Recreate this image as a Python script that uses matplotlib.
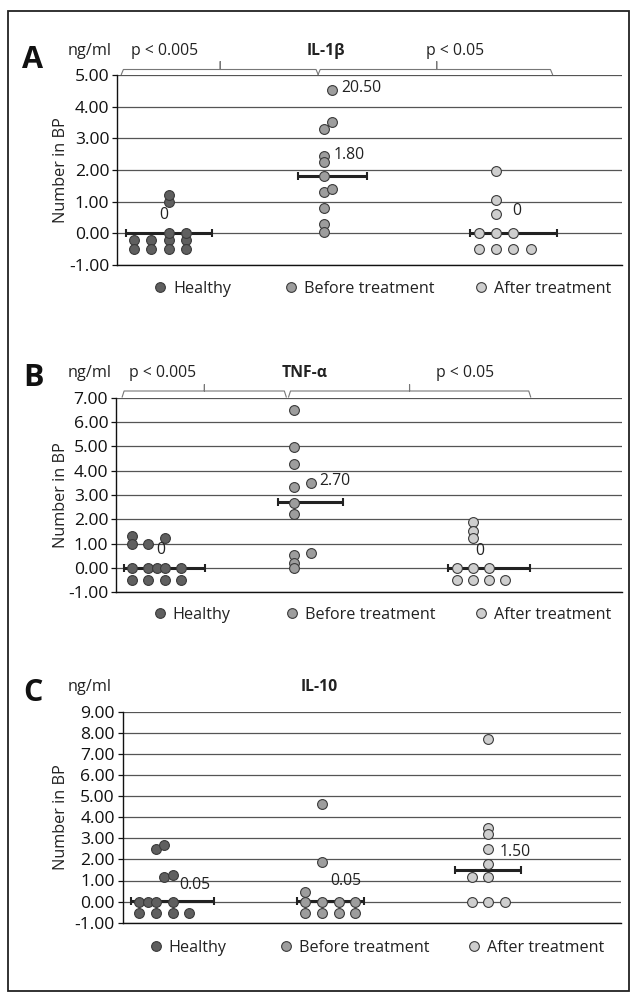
import numpy as np
import matplotlib
matplotlib.use('Agg')
import matplotlib.pyplot as plt
import matplotlib.transforms as mtrans
from matplotlib.lines import Line2D
from matplotlib.patches import Rectangle

plt.rcParams['font.family'] = ['Open Sans', 'DejaVu Sans']

# ---------------- data ----------------
groups = ['Healthy', 'Before treatment', 'After treatment']

# Panel A: IL-1beta
healthy_A_x = [1, 1, 2, 2, 3, 3, 3, 3, 3, 4, 4, 4]
healthy_A_y = [-0.22, -0.5, -0.22, -0.5, -0.22, -0.5, 0.0, 1.0, 1.2, -0.22, -0.5, 0.0]
before_A_x = [12.5, 12.5, 12, 12, 12, 12, 12, 12.5, 12, 12, 12]
before_A_y = [4.52, 3.52, 3.28, 2.43, 2.24, 1.82, 1.29, 1.40, 0.79, 0.30, 0.05]
after_A_x = [22, 22, 22, 21, 22, 23, 21, 22, 23, 24]
after_A_y = [1.96, 1.06, 0.60, 0, 0, 0, -0.5, -0.5, -0.5, -0.5]
median_A = [0.0, 1.80, 0.0]
median_A_labels = ['0', '1.80', '0']
outlier_A_label = '20.50'

# Panel B: TNF-alpha
healthy_B_x = [1, 1, 2, 3, 1, 2, 2.5, 3, 4, 1, 2, 3, 4]
healthy_B_y = [1.33, 0.99, 0.99, 1.24, 0, 0, 0, 0, 0, -0.51, -0.51, -0.51, -0.51]
before_B_x = [11, 11, 11, 11, 12, 11, 11, 11, 11, 11, 12]
before_B_y = [6.49, 4.99, 4.28, 3.32, 3.49, 2.69, 2.22, 0.53, 0.22, 0.0, 0.63]
after_B_x = [22, 22, 22, 21, 22, 23, 21, 22, 23, 24]
after_B_y = [1.88, 1.52, 1.22, 0, 0, 0, -0.5, -0.5, -0.5, -0.5]
median_B = [0.0, 2.70, 0.0]
median_B_labels = ['0', '2.70', '0']

# Panel C: IL-10
healthy_C_x = [2, 2.5, 2.5, 3, 1, 1.5, 2, 3, 1, 2, 3, 4]
healthy_C_y = [2.48, 2.68, 1.18, 1.26, 0, 0, 0, 0, -0.54, -0.54, -0.54, -0.54]
before_C_x = [11, 12, 12, 11, 12, 13, 14, 11, 12, 13, 14]
before_C_y = [0.47, 4.61, 1.89, 0, 0, 0, 0, -0.54, -0.54, -0.54, -0.54]
after_C_x = [22, 22, 22, 22, 22, 22, 21, 21, 22, 23]
after_C_y = [7.69, 3.50, 3.22, 2.48, 1.80, 1.17, 1.17, 0, 0, 0]
median_C = [0.05, 0.05, 1.50]
median_C_labels = ['0.05', '0.05', '1.50']

titles = ['IL-1β', 'TNF-α', 'IL-10']
letters = ['A', 'B', 'C']
pvals_A = ['p < 0.005', 'p < 0.05']
pvals_B = ['p < 0.005', 'p < 0.05']

# ---------------- style / layout ----------------
W, H, DPI = 630, 992, 100
colors = ['#5f5f5f', '#9d9d9d', '#cecece']
edge = '#3a3a3a'
FS = 11.3
TFS = 12.6

fig = plt.figure(figsize=(W / DPI, H / DPI), dpi=DPI)

panels = [
    dict(rect=(117, 75, 622, 265), ylim=(-1, 5), xlim=(0, 29.3),
         xs=[healthy_A_x, before_A_x, after_A_x], ys=[healthy_A_y, before_A_y, after_A_y],
         med=median_A, medlab=median_A_labels,
         medspan=[(0.5, 5.5), (10.5, 14.5), (20.5, 25.5)],
         labpos=[(2.74, 0.58), (13.5, 2.48), (23.2, 0.71)],
         extra=[(14.2, 4.6, outlier_A_label)],
         brackets=[(0.25, 11.67, 5.99), (11.67, 25.27, 18.55)],
         brk_px=(69.5, 74.5, 61.5), pv=pvals_A, pvx=[2.74, 19.6], titlex=12.1,
         text_py=51, letter_py=60, leg=[(160, 289), (291, 289), (481, 289)]),
    dict(rect=(116, 397.7, 622, 592.3), ylim=(-1, 7), xlim=(0, 31.2),
         xs=[healthy_B_x, before_B_x, after_B_x], ys=[healthy_B_y, before_B_y, after_B_y],
         med=median_B, medlab=median_B_labels,
         medspan=[(0.5, 5.5), (10, 14), (20.5, 25.5)],
         labpos=[(2.76, 0.74), (13.5, 3.58), (22.44, 0.70)],
         extra=[],
         brackets=[(0.38, 10.5, 5.45), (10.64, 25.57, 18.1)],
         brk_px=(391, 397, 384.5), pv=pvals_B, pvx=[2.9, 21.5], titlex=11.6,
         text_py=372.7, letter_py=377.5, leg=[(159.5, 615), (292, 615), (481, 615)]),
    dict(rect=(122.7, 711.7, 621, 922.7), ylim=(-1, 9), xlim=(0, 30.0),
         xs=[healthy_C_x, before_C_x, after_C_x], ys=[healthy_C_y, before_C_y, after_C_y],
         med=median_C, medlab=median_C_labels,
         medspan=[(0.5, 5.5), (10.5, 14.5), (20, 24)],
         labpos=[(4.36, 0.77), (13.44, 0.98), (23.6, 2.35)],
         extra=[],
         brackets=[], brk_px=None, pv=[], pvx=[], titlex=11.8,
         text_py=687.3, letter_py=693, leg=[(155.5, 948), (285.5, 948), (474, 948)]),
]

for i, p in enumerate(panels):
    l, t, r, b = p['rect']
    ax = fig.add_axes([l / W, 1 - b / H, (r - l) / W, (b - t) / H])
    ax.set_xlim(*p['xlim'])
    ax.set_ylim(*p['ylim'])
    yt = np.arange(p['ylim'][0], p['ylim'][1] + 0.5, 1)
    ax.set_yticks(yt)
    ax.set_yticklabels([f'{v:.2f}' for v in yt])
    ax.set_xticks([])
    ax.yaxis.grid(True, color='#555555', lw=0.9)
    ax.set_axisbelow(True)
    for s in ['top', 'right']:
        ax.spines[s].set_visible(False)
    ax.spines['left'].set_color('#111111')
    ax.spines['bottom'].set_color('#111111')
    ax.spines['left'].set_linewidth(1.0)
    ax.spines['bottom'].set_linewidth(1.0)
    ax.tick_params(axis='y', length=3.6, width=0.9, pad=2, labelsize=TFS, colors='#111111')

    # medians
    for (lo, hi), m in zip(p['medspan'], p['med']):
        ax.errorbar([(lo + hi) / 2], [m], xerr=[(hi - lo) / 2], fmt='none',
                    ecolor='#222222', elinewidth=2.2, capsize=3, capthick=1.5, zorder=2)
    # points
    for xs, ys, c in zip(p['xs'], p['ys'], colors):
        ax.scatter(xs, ys, s=50, c=c, edgecolors=edge, linewidths=0.8, zorder=3, clip_on=False)
    # median labels
    for (lx, ly), s in zip(p['labpos'], p['medlab']):
        ax.text(lx, ly, s, ha='center', va='center', fontsize=FS, color='#222222', zorder=4)
    for (lx, ly, s) in p['extra']:
        ax.text(lx, ly, s, ha='center', va='center', fontsize=FS, color='#222222', zorder=4)

    def yfrac(py, t=t, b=b):
        return (b - py) / (b - t)

    tr = mtrans.blended_transform_factory(ax.transData, ax.transAxes)
    if p['brk_px'] is not None:
        yl, yh, ytk = [yfrac(v) for v in p['brk_px']]
        for (x0, x1, xt) in p['brackets']:
            ax.plot([x0, x0 + 0.12, xt, xt, xt, x1 - 0.12, x1],
                    [yh, yl, yl, ytk, yl, yl, yh], transform=tr, color='#777777',
                    lw=0.8, clip_on=False, solid_joinstyle='round')
    ty = yfrac(p['text_py'])
    for s, x in zip(p['pv'], p['pvx']):
        ax.text(x, ty, s, transform=tr, ha='center', va='center', fontsize=FS, color='#222222')
    ax.text(p['titlex'], ty, titles[i], transform=tr, ha='center', va='center',
            fontsize=FS, fontweight='bold', color='#222222')

    fig.text(90 / W, 1 - p['text_py'] / H, 'ng/ml', ha='center', va='center',
             fontsize=FS + 0.4, color='#222222')
    fig.text(33 / W, 1 - p['letter_py'] / H, letters[i], ha='center', va='center',
             fontsize=22, fontweight='bold', color='#111111')
    fig.text(61 / W, 1 - ((t + b) / 2) / H, 'Number in BP', rotation=90,
             ha='center', va='center', fontsize=FS + 0.4, color='#222222')

    # legends
    hl = 0.8
    for (mx, my), c, g in zip(p['leg'], colors, groups):
        h = Line2D([], [], marker='o', linestyle='none', markersize=7,
                   markerfacecolor=c, markeredgecolor=edge, markeredgewidth=0.8)
        off = hl * FS * DPI / 72 / 2
        fig.legend(handles=[h], labels=[g], loc='center left',
                   bbox_to_anchor=((mx - off) / W, 1 - my / H),
                   bbox_transform=fig.transFigure, frameon=False, borderpad=0,
                   borderaxespad=0, handlelength=hl, handletextpad=0.4,
                   fontsize=FS + 0.3, labelcolor='#222222')

fig.add_artist(Rectangle((8 / W, 1 - 991 / H), (629.3 - 8) / W, (991 - 11) / H,
                         transform=fig.transFigure, fill=False, lw=1.3, ec='#222222'))

fig.savefig('out.png', dpi=DPI)
